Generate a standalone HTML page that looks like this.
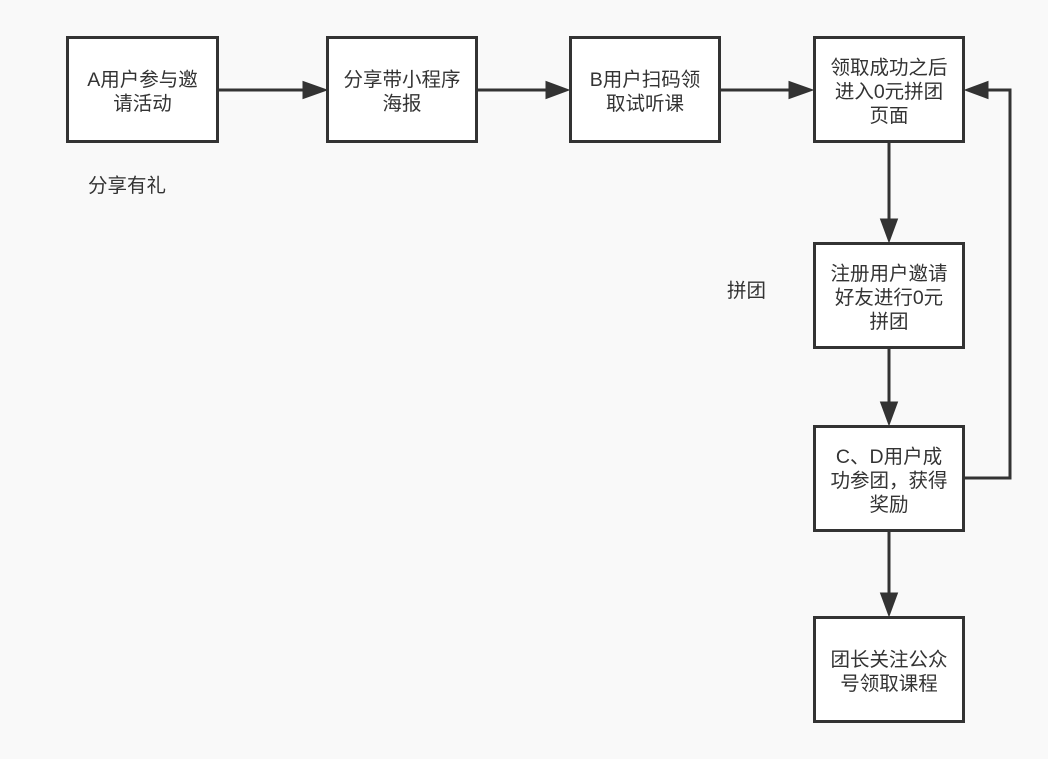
<!DOCTYPE html>
<html>
<head>
<meta charset="utf-8">
<style>
  html,body{margin:0;padding:0;}
  body{width:1048px;height:759px;background:#f9f9f9;position:relative;overflow:hidden;
       font-family:"Liberation Sans","Noto Sans CJK SC",sans-serif;color:#333;}
  svg{position:absolute;left:0;top:0;}
  .t{position:absolute;display:flex;align-items:center;justify-content:center;text-align:center;
     font-size:19.5px;line-height:24px;white-space:nowrap;}
  .l{position:absolute;font-size:19.5px;line-height:24px;white-space:nowrap;}
</style>
</head>
<body>
<svg width="1048" height="759" viewBox="0 0 1048 759">
  <g fill="#fff" stroke="#333" stroke-width="3">
    <rect x="67.5" y="37.5" width="150" height="104"/>
    <rect x="327.5" y="37.5" width="149" height="104"/>
    <rect x="570.5" y="37.5" width="149" height="104"/>
    <rect x="814.5" y="37.5" width="149" height="104"/>
    <rect x="814.5" y="243.5" width="149" height="104"/>
    <rect x="814.5" y="426.5" width="149" height="104"/>
    <rect x="814.5" y="617.5" width="149" height="104"/>
  </g>
  <g stroke="#333" stroke-width="3" fill="none">
    <line x1="219" y1="90" x2="305" y2="90"/>
    <line x1="478" y1="90" x2="548" y2="90"/>
    <line x1="721" y1="90" x2="791" y2="90"/>
    <line x1="889" y1="143" x2="889" y2="221"/>
    <line x1="889" y1="349" x2="889" y2="404"/>
    <line x1="889" y1="532" x2="889" y2="595"/>
    <polyline points="965,478 1010,478 1010,90 986,90"/>
  </g>
  <g fill="#333" stroke="#333" stroke-width="1">
    <polygon points="303,81.5 327,90 303,98.5"/>
    <polygon points="546,81.5 569,90 546,98.5"/>
    <polygon points="789,81.5 813,90 789,98.5"/>
    <polygon points="880.5,219 897.5,219 889,242"/>
    <polygon points="880.5,402 897.5,402 889,425"/>
    <polygon points="880.5,593 897.5,593 889,616"/>
    <polygon points="988,81.5 965,90 988,98.5"/>
  </g>
</svg>

<div class="t" style="left:67px;top:40px;width:151px;height:104px;">A用户参与邀<br>请活动</div>
<div class="t" style="left:327px;top:40px;width:150px;height:104px;">分享带小程序<br>海报</div>
<div class="t" style="left:570px;top:40px;width:150px;height:104px;">B用户扫码领<br>取试听课</div>
<div class="t" style="left:814px;top:40px;width:150px;height:104px;">领取成功之后<br>进入0元拼团<br>页面</div>
<div class="t" style="left:814px;top:246px;width:150px;height:104px;">注册用户邀请<br>好友进行0元<br>拼团</div>
<div class="t" style="left:814px;top:429px;width:150px;height:104px;">C、D用户成<br>功参团，获得<br>奖励</div>
<div class="t" style="left:814px;top:620px;width:150px;height:104px;">团长关注公众<br>号领取课程</div>

<div class="l" style="left:88px;top:174px;">分享有礼</div>
<div class="l" style="left:727px;top:279px;">拼团</div>
</body>
</html>
